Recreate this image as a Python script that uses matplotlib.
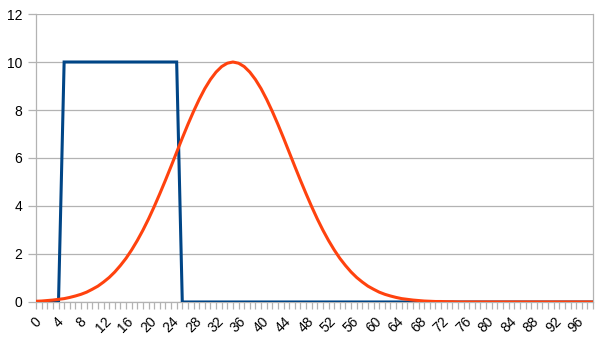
import matplotlib
matplotlib.use('Agg')
import matplotlib.pyplot as plt

# x categories 0..99
x_values = list(range(100))

# rectangular pulse
pulse = [0] * 5 + [10] * 21 + [0] * 74

# bell curve
bell = [0.03, 0.04, 0.06, 0.08, 0.11, 0.14, 0.19, 0.25, 0.32, 0.41,
        0.53, 0.66, 0.83, 1.02, 1.25, 1.52, 1.82, 2.17, 2.56, 2.99,
        3.46, 3.97, 4.51, 5.07, 5.65, 6.24, 6.83, 7.40, 7.94, 8.44,
        8.89, 9.27, 9.58, 9.81, 9.95, 10.0, 9.95, 9.81, 9.58, 9.27,
        8.89, 8.44, 7.94, 7.40, 6.83, 6.24, 5.65, 5.07, 4.51, 3.97,
        3.46, 2.99, 2.56, 2.17, 1.82, 1.52, 1.25, 1.02, 0.83, 0.66,
        0.53, 0.41, 0.32, 0.25, 0.19, 0.14, 0.11, 0.08, 0.06, 0.04,
        0.03, 0.02, 0.02, 0.01, 0.01] + [0] * 25

plt.rcParams['font.family'] = ['Liberation Sans', 'DejaVu Sans']

fig = plt.figure(figsize=(6.05, 3.4), dpi=100)
ax = fig.add_axes([0.0595, 0.1118, 0.9207, 0.847])

grid_c = '#b3b3b3'
ax.plot(x_values, pulse, color='#004586', lw=2.2, solid_joinstyle='miter', zorder=3)
ax.plot(x_values, bell, color='#ff420e', lw=2.2, zorder=4)

ax.set_xlim(0, 99)
ax.set_ylim(0, 12)
ax.set_yticks(range(0, 13, 2))
ax.set_xticks(range(0, 99, 4))
ax.set_xticks(range(0, 100), minor=True)
ax.yaxis.grid(True, color=grid_c, lw=0.9)
ax.set_axisbelow(True)

for s in ax.spines.values():
    s.set_color(grid_c)
    s.set_linewidth(0.9)
ax.spines['top'].set_visible(False)

ax.tick_params(axis='y', length=6, width=0.9, color=grid_c, labelsize=10, pad=4)
ax.tick_params(axis='x', which='both', length=5, width=0.9, color=grid_c, labelsize=10, pad=4)
for lab in ax.get_xticklabels():
    lab.set_rotation(45)
    lab.set_ha('center')
    lab.set_va('top')

fig.savefig('out.png', dpi=100)
